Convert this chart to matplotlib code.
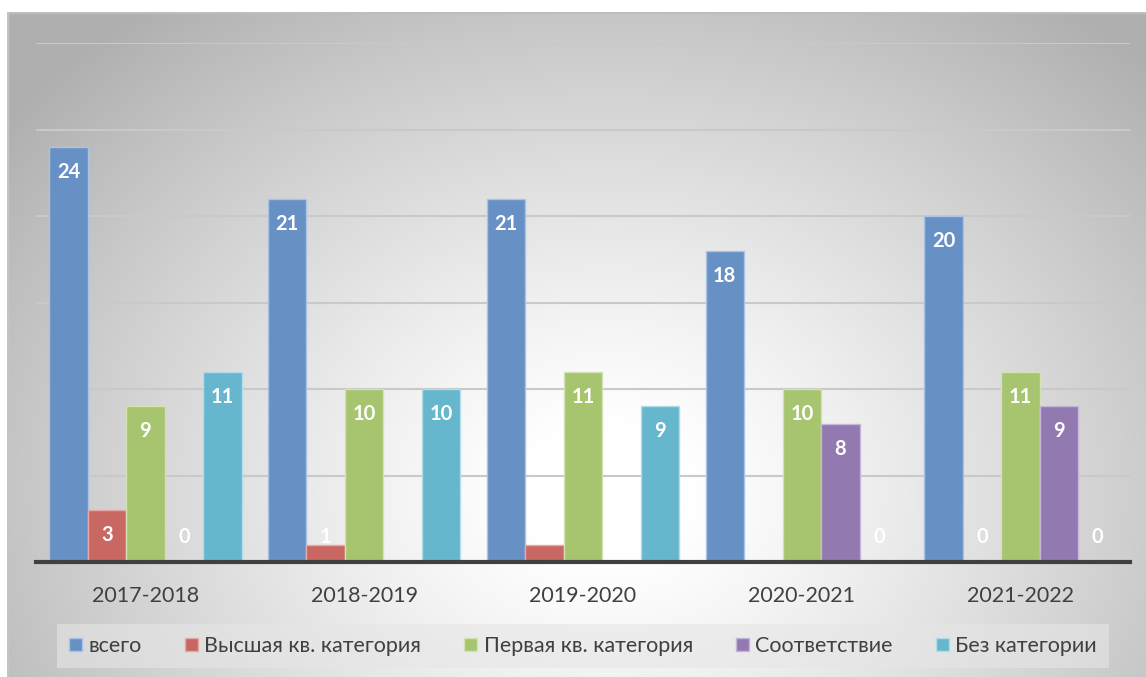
import numpy as np
import matplotlib
matplotlib.use("Agg")
import matplotlib.pyplot as plt

plt.rcParams['font.family'] = ['Lato', 'DejaVu Sans']

years = ["2017-2018", "2018-2019", "2019-2020", "2020-2021", "2021-2022"]
series_names = ["всего", "Высшая кв. категория", "Первая кв. категория", "Соответствие", "Без категории"]
vsego = [24, 21, 21, 18, 20]
vysshaya = [3, 1, 1, np.nan, 0]
pervaya = [9, 10, 11, 10, 11]
sootv = [0, np.nan, np.nan, 8, 9]
bez = [11, 10, 9, 0, 0]
series_values = [vsego, vysshaya, pervaya, sootv, bez]
colors = ['#6790c5', '#c96762', '#a7c46f', '#9279b0', '#66b7cd']
edges = ['#a9c4e6', '#e8a9a6', '#d2e3b3', '#c4b6d8', '#b0dde9']

W, H = 1146, 677
fig = plt.figure(figsize=(W/100, H/100), dpi=100)
fig.patch.set_facecolor('white')

# background gradient panel
bx0, by0 = 7, 12
bg = fig.add_axes([bx0/W, 0, 1 - bx0/W, 1 - by0/H], zorder=0)
yy, xx = np.mgrid[0:H-by0, 0:W-bx0]
cx, cy = 600, 480
r = np.sqrt(((xx - cx) / 640.0)**2 + ((yy - cy) / 520.0)**2)
t = np.clip((r - 0.12) / 0.88, 0, 1.2)
val = 1.0 - 0.25 * t**1.2
img = np.dstack([val, val, val])
bg.imshow(img, aspect='auto', extent=[0, 1, 0, 1], origin='upper')
bg.set_xlim(0, 1); bg.set_ylim(0, 1)
bg.axis('off')
bg.plot([0, 1], [1, 1], color='#bdbdbd', lw=2.5, transform=bg.transAxes)
bg.plot([0, 0], [0, 1], color='#c4c4c4', lw=2.5, transform=bg.transAxes)

ax_l, ax_r, ax_t, ax_b = 36, 1130, 43, 562
ax = fig.add_axes([ax_l/W, 1 - ax_b/H, (ax_r-ax_l)/W, (ax_b-ax_t)/H], zorder=1)
ax.patch.set_alpha(0)

n = len(years)
x = np.arange(n)
bw = 0.176
offs = (np.arange(5) - 2) * bw
for i, (vals, c, e) in enumerate(zip(series_values, colors, edges)):
    vals = np.array(vals, dtype=float)
    ax.bar(x + offs[i], np.nan_to_num(vals), width=bw, color=c, edgecolor=e,
           linewidth=1.0, zorder=3, label=series_names[i])
    for j, v in enumerate(vals):
        if np.isnan(v):
            continue
        ax.annotate(f"{int(v)}", xy=(x[j] + offs[i], max(v, 2.9)), xytext=(0, -18),
                    textcoords='offset points', ha='center', va='center',
                    color='white', fontsize=14.5, fontweight='bold', zorder=5)

ax.set_xlim(-0.5, n - 0.5)
ax.set_ylim(0, 30)
ax.set_yticks([5, 10, 15, 20, 25, 30])
ax.yaxis.grid(True, color='#c9c9c9', lw=1.5, zorder=0)
ax.tick_params(axis='y', left=False, labelleft=False)
ax.set_xticks(x)
ax.set_xticklabels(years, fontsize=15.5, color='#404040')
ax.tick_params(axis='x', length=0, pad=17)
for s in ['top', 'right', 'left']:
    ax.spines[s].set_visible(False)
ax.spines['bottom'].set_color('#404040')
ax.spines['bottom'].set_linewidth(3)
ax.spines['bottom'].set_zorder(4)

handles, labels = ax.get_legend_handles_labels()
leg = fig.legend(handles, labels, loc='center', ncol=5,
                 bbox_to_anchor=((63 + 1103) / 2 / W, 1 - 646 / H),
                 fontsize=15.5, frameon=True, fancybox=False,
                 handlelength=0.6, handleheight=0.6, handletextpad=0.3,
                 columnspacing=2.0, borderpad=0.55)
leg.get_frame().set_facecolor('#e6e6e6')
leg.get_frame().set_alpha(0.6)
leg.get_frame().set_edgecolor('none')
for t_ in leg.get_texts():
    t_.set_color('#404040')

fig.savefig('out.png', dpi=100)
